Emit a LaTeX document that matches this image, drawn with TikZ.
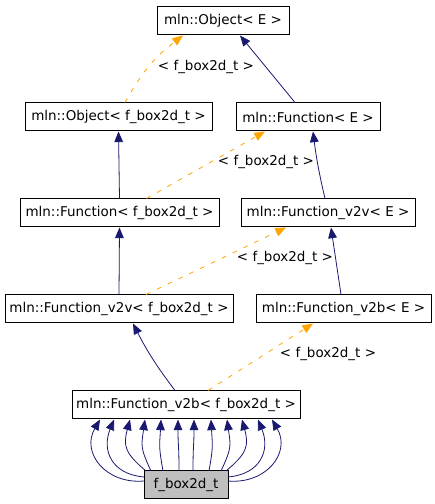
\documentclass[tikz,border=0pt]{standalone}
\usepackage{fontspec}
\setmainfont{DejaVu Sans}
\usetikzlibrary{arrows.meta,calc}
\definecolor{inhblue}{RGB}{25,25,112}
\definecolor{tmplorange}{RGB}{255,165,0}

\begin{document}
\begin{tikzpicture}[x=0.75pt, y=0.75pt,
		cls/.style={draw, rectangle, line width=0.75pt, minimum height=21pt, inner sep=0pt, font=\fontsize{10.1}{12}\selectfont},
		bw/.style={minimum width=#1*0.75pt},
		inh/.style={draw=inhblue, line width=0.6pt, -{Triangle[length=8pt,width=6.5pt]}, inhblue},
		tmpl/.style={draw=tmplorange, line width=0.6pt, dash pattern=on 3.5pt off 5.5pt, -{Triangle[length=8pt,width=6.5pt]}, tmplorange},
		mylabel/.style={font=\fontsize{10.1}{12}\selectfont, inner sep=0pt}
		]
		\useasboundingbox (0,0) rectangle (435,504);
		
		\node[cls, bw=132] (oE) at (223, 483) {mln::Object< E >};
		\node[cls, bw=187] (oF) at (118.5, 387) {mln::Object< f\_box2d\_t >};
		\node[cls, bw=144] (fE) at (308, 387) {mln::Function< E >};
		\node[cls, bw=199] (fF) at (119.5, 291) {mln::Function< f\_box2d\_t >};
		\node[cls, bw=174] (vE) at (328, 291) {mln::Function\_v2v< E >};
		\node[cls, bw=228] (vF) at (119, 195) {mln::Function\_v2v< f\_box2d\_t >};
		\node[cls, bw=175] (bE) at (343.5, 195) {mln::Function\_v2b< E >};
		\node[cls, bw=228] (bF) at (186, 99) {mln::Function\_v2b< f\_box2d\_t >};
		\node[cls, bw=84, fill=black!25] (fb) at (186, 19) {f\_box2d\_t};
		
		\foreach \i/\x/\y in {1/206/437, 2/266/342, 3/285/246, 4/328/150}
		\node[mylabel] (t\i) at (\x, \y) {< f\_box2d\_t >};
		
		\draw[tmpl] ($(oF.north)+(6.5,0)$) to[bend left=12] ($(oE.south)+(-40,0)$);
		\draw[inh] ($(fE.north)+(-13,0)$) -- ($(oE.south)+(17,0)$);
		\draw[inh] (fF.north) -- (oF.south);
		\draw[tmpl] ($(fF.north)+(27,0)$) -- ($(fE.south)+(-43,0)$);
		\draw[inh] ($(vE.north)+(-3,0)$) to[bend left=3] ($(fE.south)+(5,0)$);
		\draw[inh] (vF.north) -- (fF.south);
		\draw[tmpl] ($(vF.north)+(27,0)$) -- ($(vE.south)+(-42,0)$);
		\draw[inh] ($(bE.north)+(-2.5,0)$) -- ($(vE.south)+(3,0)$);
		\draw[inh] ($(bF.north)+(-11,0)$) to[bend left=5] ($(vF.south)+(14,0)$);
		\draw[tmpl] ($(bF.north)+(22,0)$) -- ($(bE.south)+(-30.5,0)$);
		
		% f_box2d_t fan
		\foreach \dx/\tx/\ty/\o/\n in {-86/-42/4/185/-120, -72/-42/8/175/-112, -56/-40/14/140/-105,
			-41/-35/14/115/-98, -25/-23/14/100/-93, -8/-7/14/90/-90,
			8/7/14/90/-90, 25/23/14/80/-87, 41/35/14/65/-82,
			56/40/14/40/-75, 72/42/8/5/-68, 86/42/4/-5/-60}
		\draw[inh] ($(fb)+(\tx,\ty)$) to[out=\o, in=\n, looseness=1.3] ($(bF.south)+(\dx,0)$);
\end{tikzpicture}
\end{document}
